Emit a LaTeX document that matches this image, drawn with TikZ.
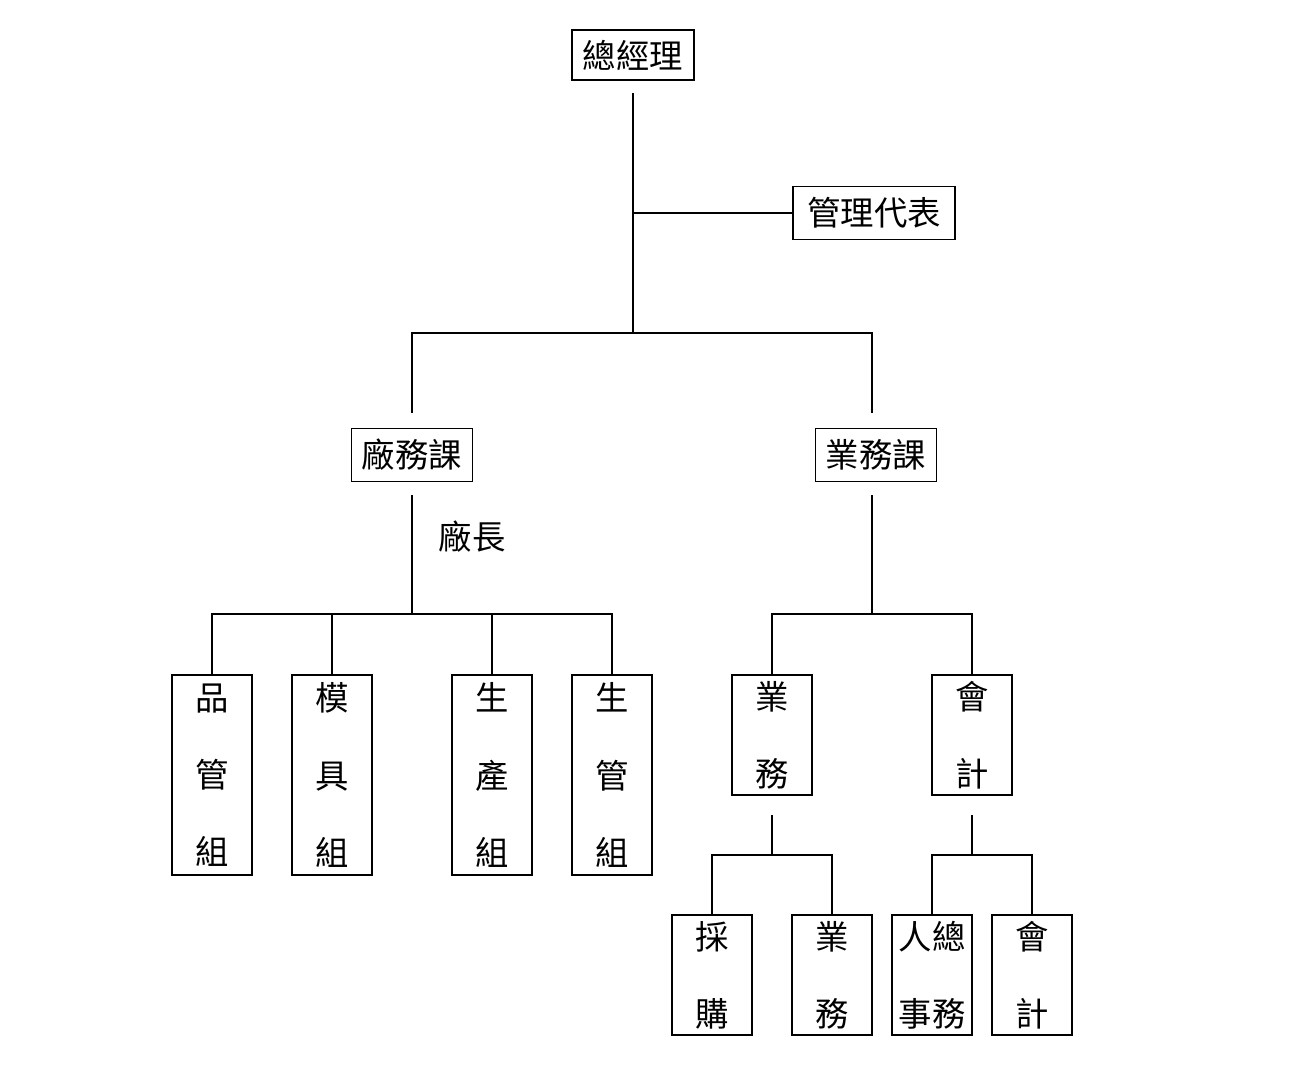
\documentclass[tikz,border=0pt]{standalone}
\usepackage{fontspec}
\newfontfamily\cjk{Noto Sans CJK TC}
\begin{document}
\begin{tikzpicture}[x=0.02cm,y=-0.02cm,thick,
  box/.style={draw,rectangle,inner sep=2pt,font=\cjk\fontsize{19}{23}\selectfont},
  col/.style={draw,rectangle,minimum width=1.6cm,align=center,font=\cjk\fontsize{19}{44}\selectfont},
  shorten >=0pt]
\useasboundingbox (0,0) rectangle (1311,1080);

\node[box,minimum width=2.44cm,minimum height=1cm] (gm) at (633,55) {總經理};
\node[box,minimum width=3.24cm,minimum height=1.06cm] (rep) at (874,213) {管理代表};
\node[box,minimum width=2.42cm,minimum height=1.06cm] (fac) at (412,455) {廠務課};
\node[box,minimum width=2.42cm,minimum height=1.06cm] (biz) at (876,455) {業務課};
\node[font=\cjk\fontsize{19}{23}\selectfont] (head) at (472,537) {廠長};

\node[col,minimum height=4cm] (qc) at (212,775) {品\\管\\組};
\node[col,minimum height=4cm] (mold) at (332,775) {模\\具\\組};
\node[col,minimum height=4cm] (prod) at (492,775) {生\\產\\組};
\node[col,minimum height=4cm] (pc) at (612,775) {生\\管\\組};
\node[col,minimum height=2.4cm] (sales) at (772,735) {業\\務};
\node[col,minimum height=2.4cm] (acct) at (972,735) {會\\計};
\node[col,minimum height=2.4cm] (buy) at (712,975) {採\\購};
\node[col,minimum height=2.4cm] (sales2) at (832,975) {業\\務};
\node[col,minimum height=2.4cm] (hr) at (932,975) {人總\\事務};
\node[col,minimum height=2.4cm] (acct2) at (1032,975) {會\\計};

% junctions
\coordinate (j1) at (633,333);
\coordinate (j2) at (412,614);
\coordinate (j3) at (872,614);
\coordinate (j4) at (772,855);
\coordinate (j5) at (972,855);

\draw (633,93) -- (j1);
\draw (633,213) -- (rep.west);
\draw (j1) -| ([yshift=0.3cm]fac.north);
\draw (j1) -| ([yshift=0.3cm]872,428);
\draw (412,495) -- (j2);
\draw (872,495) -- (j3);
\foreach \n in {qc,mold,prod,pc} \draw (j2) -| (\n.north);
\foreach \n in {sales,acct} \draw (j3) -| (\n.north);
\draw (772,815) -- (j4);
\draw (972,815) -- (j5);
\foreach \n in {buy,sales2} \draw (j4) -| (\n.north);
\foreach \n in {hr,acct2} \draw (j5) -| (\n.north);
\end{tikzpicture}
\end{document}
